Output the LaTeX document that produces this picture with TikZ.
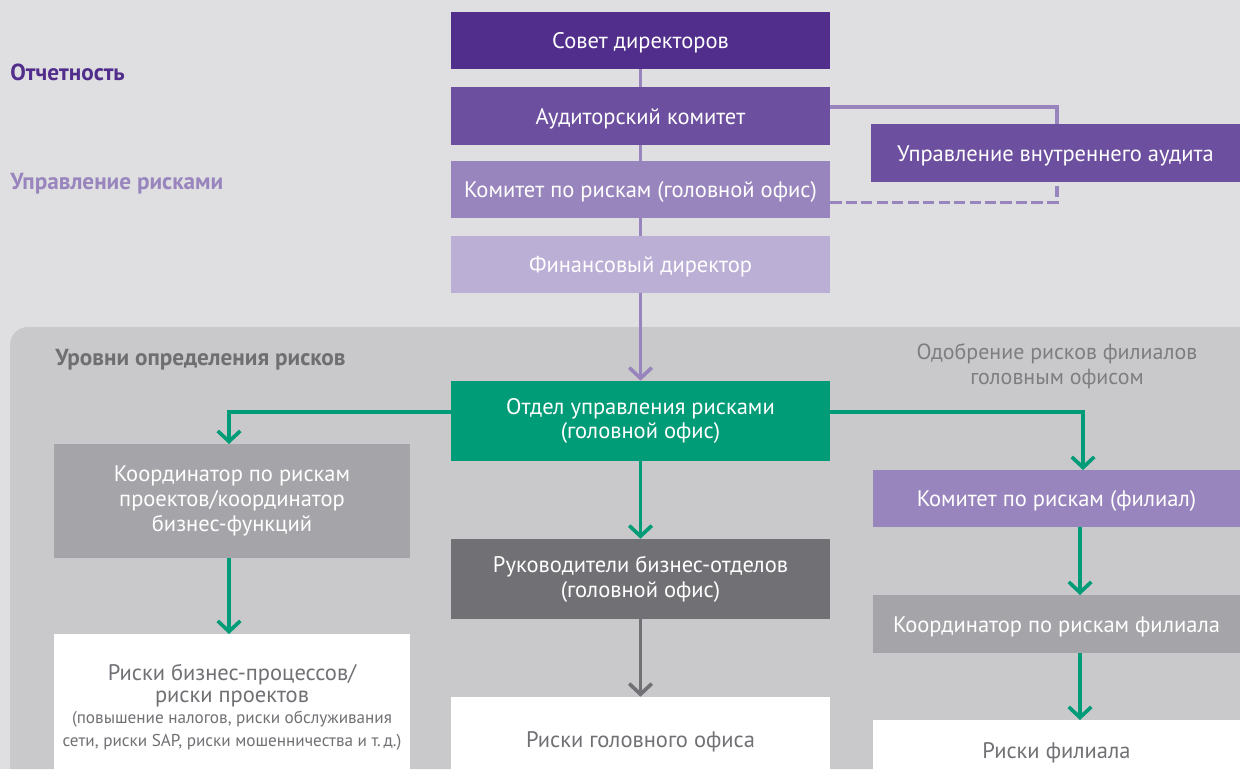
\documentclass[tikz,border=0pt]{standalone}
\usepackage{fontspec}
\setmainfont{PT Sans}
\usetikzlibrary{arrows.meta,calc}
\definecolor{bg}{HTML}{DFDFE1}
\definecolor{panel}{HTML}{C9C9CB}
\definecolor{pA}{HTML}{512D8C}
\definecolor{pB}{HTML}{6D4FA0}
\definecolor{pC}{HTML}{9985BD}
\definecolor{pD}{HTML}{BBAFD6}
\definecolor{grn}{HTML}{009B77}
\definecolor{gA}{HTML}{A5A4A8}
\definecolor{gB}{HTML}{717074}
\definecolor{txg}{HTML}{6F6F71}
\definecolor{txl}{HTML}{7E7E80}
\newdimen\pxu \pxu=0.025cm
\begin{document}
\begin{tikzpicture}[x=0.025cm,y=-0.025cm,
  box/.style={inner sep=0pt, align=center, text=white, font=\fontsize{16}{17.6}\selectfont},
  one/.style={text depth=0pt, text height=1.2em},
  wbox/.style={inner sep=0pt, align=center, fill=white, text=gB, font=\fontsize{16}{16}\selectfont},
  conn/.style={line width=2.6pt},
  tip/.style={-{Straight Barb[length=7.5pt,width=16pt]}},
  side/.style={anchor=west, inner sep=0pt, font=\bfseries\fontsize{16.5}{19}\selectfont}]
\useasboundingbox (0,0) rectangle (1240,769);
\fill[bg] (0,0) rectangle (1240,769);
\fill[panel, rounded corners=18\pxu] (10,769) -- (10,327) -- (1240,327) -- (1240,769);
\path[fill=panel] (1200,327) rectangle (1240,769);
% side labels
\node[side, text=pA] (lrep) at (10,72) {Отчетность};
\node[side, text=pC] (lrisk) at (10,184) {Управление рисками};
\node[side, text=txg] (llev) at (55,360) {Уровни определения рисков};
\node[align=center, inner sep=0pt, text=txl, font=\fontsize{15.6}{18}\selectfont] (lapp) at (1057,366) {Одобрение рисков филиалов\\головным офисом};
% top column
\node[box, one, fill=pA, minimum width=379\pxu, minimum height=57\pxu] (sov) at (640.5,40.5) {Совет директоров};
\node[box, one, fill=pB, minimum width=379\pxu, minimum height=58\pxu] (aud) at (640.5,116) {Аудиторский комитет};
\node[box, one, fill=pC, minimum width=379\pxu, minimum height=57\pxu] (kom) at (640.5,189.5) {Комитет по рискам (головной офис)};
\node[box, one, fill=pD, minimum width=379\pxu, minimum height=57\pxu] (fin) at (640.5,264.5) {Финансовый директор};
\node[box, one, fill=pB, minimum width=369\pxu, minimum height=58\pxu] (uva) at (1055.5,153) {Управление внутреннего аудита};
% middle
\node[box, fill=grn, minimum width=379\pxu, minimum height=80\pxu] (orm) at (640.5,421) {Отдел управления рисками\\(головной офис)};
\node[box, fill=gA, minimum width=356\pxu, minimum height=114\pxu] (krd) at (232,501) {Координатор по рискам\\проектов/координатор\\бизнес-функций};
\node[box, fill=gB, minimum width=379\pxu, minimum height=80\pxu] (ruk) at (640.5,579) {Руководители бизнес-отделов\\(головной офис)};
\node[box, one, fill=pC, minimum width=367\pxu, minimum height=57\pxu] (kfil) at (1056.5,498.5) {Комитет по рискам (филиал)};
\node[box, one, fill=gA, minimum width=367\pxu, minimum height=58\pxu] (kkf) at (1056.5,624) {Координатор по рискам филиала};
% bottom
\node[wbox, minimum width=356\pxu, minimum height=146\pxu] (rbp) at (232,707) {Риски бизнес-процессов/\\риски проектов\\[-1pt]{\fontsize{12.2}{14}\selectfont (повышение налогов, риски обслуживания}\\{\fontsize{12.2}{14}\selectfont сети, риски SAP, риски мошенничества и т.\,д.)}};
\node[wbox, one, minimum width=379\pxu, minimum height=84\pxu] (rho) at (640.5,739) {Риски головного офиса};
\node[wbox, one, minimum width=367\pxu, minimum height=60\pxu] (rfil) at (1056.5,750) {Риски филиала};
% connectors top
\draw[conn, pC] (sov) -- (aud);
\draw[conn, pC] (aud) -- (kom);
\draw[conn, pC] (kom) -- (fin);
\draw[conn, pC, tip] (fin) -- (orm);
\draw[conn, pC] ($(aud.east)+(0,-9)$) -| ($(uva.north)+(1.5,0)$);
\draw[conn, pC, dash pattern=on 8pt off 3pt] ($(kom.east)+(0,13)$) -| ($(uva.south)+(1.5,0)$);
% green
\coordinate (kfT) at (1083,470);
\coordinate (kkT) at (1080,595);
\coordinate (kkB) at (1080,527);
\coordinate (rfT) at (1080,720);
\coordinate (kfB) at (1080,653);
\coordinate (krT) at (229,444);
\coordinate (krB) at (229,558);
\coordinate (rbT) at (229,634);
\draw[conn, grn, tip] ($(orm.west)+(0,-9)$) -| (krT);
\draw[conn, grn, tip] ($(orm.east)+(0,-9)$) -| (kfT);
\draw[conn, grn, tip] (orm) -- (ruk);
\draw[conn, grn, tip] (krB) -- (rbT);
\draw[conn, grn, tip] (kkB) -- (kkT);
\draw[conn, grn, tip] (kfB) -- (rfT);
\draw[conn, gB, tip] (ruk) -- (rho);
\end{tikzpicture}
\end{document}
